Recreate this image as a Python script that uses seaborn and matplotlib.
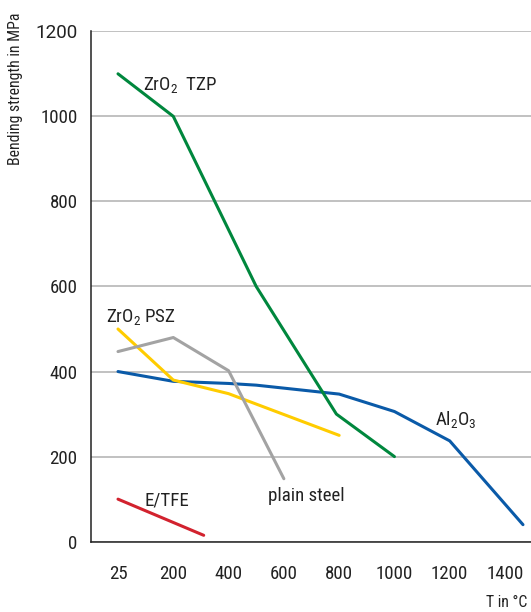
import matplotlib
matplotlib.use("Agg")
import matplotlib.pyplot as plt
from matplotlib import font_manager
import seaborn as sns
import numpy as np
import pandas as pd

# ---------------------------------------------------------------------------
# Dados (T em °C, resistência à flexão em MPa)
# ---------------------------------------------------------------------------
tzp_t = [25, 200, 500, 790, 1000]
tzp_v = [1100, 1000, 600, 300, 200]

psz_t = [25, 200, 400, 800]
psz_v = [500, 380, 348, 250]

al2o3_t = [25, 200, 400, 500, 800, 1000, 1200, 1465]
al2o3_v = [400, 377, 372, 368, 347, 306, 237, 40]

steel_t = [25, 200, 400, 600]
steel_v = [447, 480, 402, 148]

etfe_t = [25, 310]
etfe_v = [100, 15]

x_ticks = [25, 200, 400, 600, 800, 1000, 1200, 1400]
y_ticks = [0, 200, 400, 600, 800, 1000, 1200]

cores = {
    'Al2O3': '#0a5aa8',
    'ZrO2 PSZ': '#ffcc00',
    'plain steel': '#a3a3a3',
    'ZrO2 TZP': '#00873d',
    'E/TFE': '#d2222e',
}

series = [
    ('Al2O3', al2o3_t, al2o3_v),
    ('ZrO2 PSZ', psz_t, psz_v),
    ('plain steel', steel_t, steel_v),
    ('ZrO2 TZP', tzp_t, tzp_v),
    ('E/TFE', etfe_t, etfe_v),
]
df = pd.concat([pd.DataFrame({'material': nome, 'T': t, 'sigma': v})
                for nome, t, v in series], ignore_index=True)


def escolhe_fonte():
    """Procura uma fonte estreita instalada (tipo Helvetica Condensed)."""
    opcoes = [('Liberation Sans Narrow', 'normal', 13.0, 11.2),
              ('Roboto Condensed', 'normal', 13.6, 11.3),
              ('DejaVu Sans', 'condensed', 10.6, 9.5),
              ('Liberation Sans', 'normal', 10.8, 9.5)]
    for fam, stretch, tam, tam_eixo in opcoes:
        try:
            arq = font_manager.findfont(font_manager.FontProperties(family=fam, stretch=stretch),
                                        fallback_to_default=False)
        except Exception:
            continue
        if stretch == 'condensed' and 'Condensed' not in arq:
            continue
        return fam, stretch, tam, tam_eixo
    return 'DejaVu Sans', 'normal', 10.0, 9.0


fam, stretch, tam, tam_eixo = escolhe_fonte()


# escala do eixo x: 25->200 ocupa o mesmo espaço que 200->400
def fwd(t):
    t = np.asarray(t, dtype=float)
    return np.where(t < 200, (t - 25) / 175.0, 1 + (t - 200) / 200.0)


def inv(p):
    p = np.asarray(p, dtype=float)
    return np.where(p < 1, 25 + 175.0 * p, 200 + 200.0 * (p - 1))


sns.set_style("white")
plt.rcParams['font.family'] = [fam, 'DejaVu Sans']
plt.rcParams['font.stretch'] = stretch
plt.rcParams['mathtext.fontset'] = 'custom'
plt.rcParams['mathtext.rm'] = fam
plt.rcParams['mathtext.it'] = fam

fig = plt.figure(figsize=(5.31, 6.12), dpi=100)
ax = fig.add_axes([0.1708, 0.1149, 0.8292, 0.834])
ax.set_xscale('function', functions=(fwd, inv))

sns.lineplot(data=df, x='T', y='sigma', hue='material', units='material', estimator=None,
             sort=False, palette=cores, hue_order=list(cores.keys()),
             linewidth=2.2, legend=False, ax=ax)

x_left = float(inv(-0.494))
x_right = float(inv(7.47))
ax.set_xlim(x_left, x_right)
ax.set_ylim(0, 1200)

ax.set_xticks(x_ticks)
ax.set_xticklabels([str(t) for t in x_ticks])
ax.set_xticks([x_left], minor=True)
ax.set_yticks(y_ticks)

ax.tick_params(axis='x', which='both', direction='out', length=6, width=1.1, color='#222222',
               pad=11, labelsize=tam, labelcolor='#222222')
ax.tick_params(axis='y', direction='out', length=6.5, width=1.1, color='#222222',
               pad=3, labelsize=tam, labelcolor='#222222')

# no original o "1200" do topo aparece numa fonte mais larga
topo = ax.get_yticklabels()[-1]
topo.set_family(['Roboto', 'DejaVu Sans'])
topo.set_stretch('normal')

ax.yaxis.grid(True, color='#b0b0b0', linewidth=1.1)
ax.xaxis.grid(False)
ax.set_axisbelow(True)
sns.despine(ax=ax, top=True, right=True)
for lado in ['left', 'bottom']:
    ax.spines[lado].set_color('#222222')
    ax.spines[lado].set_linewidth(1.1)

ax.set_xlabel('')
ax.set_ylabel('')
fig.text(0.030, 0.855, 'Bending strength in MPa', rotation=90, ha='center', va='center',
         fontsize=tam_eixo, color='#222222')
fig.text(0.994, 0.0163, 'T in °C', ha='right', va='center', fontsize=tam_eixo, color='#222222')

# rótulos das curvas
rot = dict(fontsize=tam, color='#222222', va='baseline', ha='left')
ax.text(103, 1062, r'ZrO$_2$  TZP', **rot)
ax.text(-14, 517, r'ZrO$_2$ PSZ', **rot)
ax.text(110, 85, 'E/TFE', **rot)
ax.text(541, 96, 'plain steel', **rot)
ax.text(1147, 274, r'Al$_2$O$_3$', **rot)

fig.savefig('out.png', dpi=100)
